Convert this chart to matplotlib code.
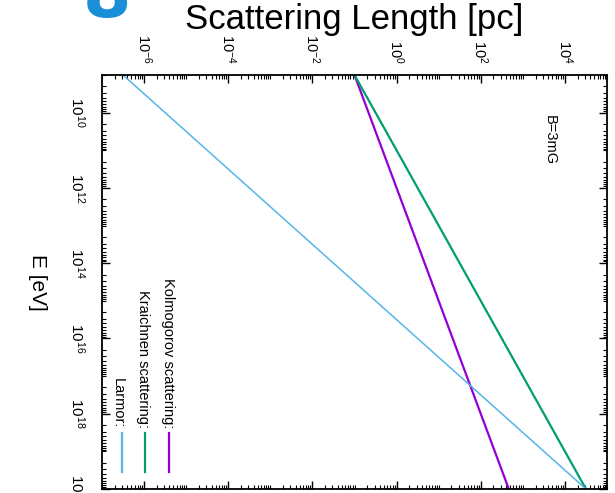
import numpy as np
import matplotlib
matplotlib.use("Agg")
import matplotlib.pyplot as plt
from matplotlib.ticker import LogLocator, NullFormatter
from matplotlib.lines import Line2D

# Scattering lengths [pc] at the ends of the energy range [eV]
energy_ev = [1e9, 1e20]
larmor_pc = [3.16e-7, 3.16e4]
kraichnan_pc = [0.1, 3.16e4]
kolmogorov_pc = [0.1, 464.0]

series_names = ["Kolmogorov scattering:", "Kraichnen scattering:", "Larmor:"]
series_colors = ["#9400d3", "#009e73", "#56b4e9"]

length_ticks = [1e-6, 1e-4, 1e-2, 1e0, 1e2, 1e4]
length_labels = ["-6", "-4", "-2", "0", "2", "4"]
energy_ticks = [1e10, 1e12, 1e14, 1e16, 1e18, 1e20]
energy_labels = ["10", "12", "14", "16", "18", "20"]

plt.rcParams["font.family"] = ["Liberation Sans", "DejaVu Sans"]
plt.rcParams["axes.unicode_minus"] = False

W, H = 615, 493
fig = plt.figure(figsize=(W / 100, H / 100), dpi=100)


def fpos(x, y):
    return x / W, 1 - y / H


left, top, right, bottom = 102, 75, 607, 489
ax = fig.add_axes([left / W, 1 - bottom / H, (right - left) / W, (bottom - top) / H])
ax.set_xscale("log")
ax.set_yscale("log")
ax.set_xlim(1e-7, 1e5)
ax.set_ylim(1e20, 1e9)

ax.plot(kolmogorov_pc, energy_ev, color=series_colors[0], lw=1.6, solid_capstyle="butt")
ax.plot(kraichnan_pc, energy_ev, color=series_colors[1], lw=1.6, solid_capstyle="butt")
ax.plot(larmor_pc, energy_ev, color=series_colors[2], lw=1.1, solid_capstyle="butt")

for sp in ax.spines.values():
    sp.set_linewidth(1.3)

ax.set_xticks(length_ticks, labels=[r"$\mathregular{10^{%s}}$" % s for s in length_labels])
ax.set_yticks(energy_ticks, labels=[r"$\mathregular{10^{%s}}$" % s for s in energy_labels])
for axis in (ax.xaxis, ax.yaxis):
    axis.set_minor_locator(LogLocator(base=10, subs=np.arange(1, 10), numticks=60))
    axis.set_minor_formatter(NullFormatter())

ax.tick_params(axis="x", which="both", direction="in", top=True, bottom=True,
               labeltop=True, labelbottom=False, labelsize=10.5, pad=8)
ax.tick_params(axis="y", which="both", direction="in", left=True, right=True,
               labelleft=True, labelright=False, labelsize=11, pad=11)
ax.tick_params(which="major", length=6, width=1)
ax.tick_params(which="minor", length=3, width=0.8)
for lab in ax.get_xticklabels():
    lab.set_rotation(-90)
for lab in ax.get_yticklabels():
    lab.set_rotation(-90)
    lab.set_verticalalignment("center")

# axis titles
fig.text(*fpos(354, 29), "Scattering Length [pc]", fontsize=25,
         ha="center", va="baseline")
fig.text(*fpos(37, 282), "E [eV]", fontsize=15, rotation=-90, ha="center", va="center")

# field strength note
fig.text(*fpos(550, 140), "B=3mG", fontsize=10.5, rotation=-90, ha="center", va="center")

# legend: labels ending at a common point, short colour bars below
label_x = [168, 143, 118]
bar_x = [169, 145, 122]
for name, col, lx, bx in zip(series_names, series_colors, label_x, bar_x):
    fig.text(*fpos(lx, 428), name, fontsize=10.5, rotation=-90,
             rotation_mode="anchor", ha="right", va="center")
    x0, y0 = fpos(bx, 433)
    x1, y1 = fpos(bx, 472)
    fig.add_artist(Line2D([x0, x1], [y0, y1], color=col, lw=1.6,
                          transform=fig.transFigure))

# panel mark, mostly above the top edge
fig.text(*fpos(107, 17), "8", color="#1a8fd8", fontsize=50, fontweight="bold",
         family=["DejaVu Sans"], ha="center", va="baseline")

fig.savefig("out.png", dpi=100)
